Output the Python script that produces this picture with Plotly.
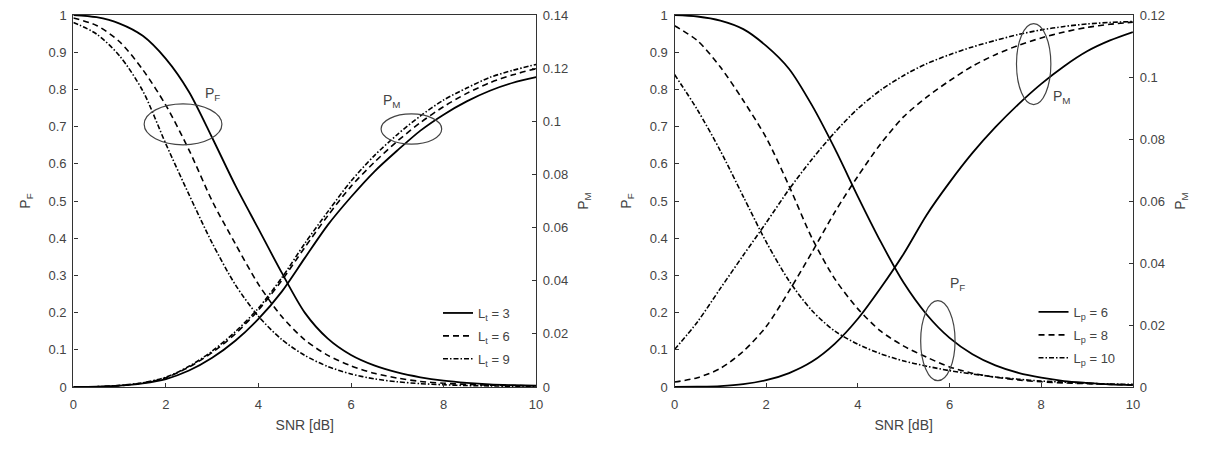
import plotly.graph_objects as go

snr = [0, 0.5, 1, 1.5, 2, 2.5, 3, 3.5, 4, 4.5, 5, 5.5, 6, 6.5, 7, 7.5, 8, 8.5, 9, 9.5, 10]

# Left panel: varying L_t
pf_lt3 = [1.0, 0.994, 0.977, 0.944, 0.882, 0.793, 0.67, 0.542, 0.425, 0.308, 0.2, 0.13, 0.086, 0.058, 0.039, 0.026, 0.017, 0.011, 0.007, 0.005, 0.0035]
pf_lt6 = [0.992, 0.972, 0.928, 0.853, 0.757, 0.637, 0.5, 0.385, 0.276, 0.19, 0.127, 0.085, 0.057, 0.037, 0.024, 0.015, 0.01, 0.007, 0.005, 0.004, 0.003]
pf_lt9 = [0.98, 0.949, 0.89, 0.796, 0.653, 0.517, 0.387, 0.275, 0.19, 0.128, 0.085, 0.055, 0.035, 0.022, 0.014, 0.009, 0.006, 0.004, 0.003, 0.002, 0.002]
pm_lt3 = [0.0, 0.0001, 0.0005, 0.0014, 0.003, 0.0062, 0.011, 0.0174, 0.0256, 0.0358, 0.0485, 0.061, 0.0715, 0.081, 0.089, 0.0965, 0.1025, 0.1075, 0.1115, 0.1145, 0.1166]
pm_lt6 = [0.0, 0.0001, 0.0005, 0.0015, 0.0035, 0.0075, 0.013, 0.02, 0.029, 0.04, 0.0525, 0.0645, 0.0755, 0.0845, 0.0925, 0.0995, 0.1055, 0.1105, 0.1145, 0.1175, 0.1198]
pm_lt9 = [0.0, 0.0001, 0.0006, 0.0016, 0.0037, 0.0078, 0.0135, 0.0208, 0.0297, 0.041, 0.054, 0.066, 0.0775, 0.087, 0.095, 0.102, 0.108, 0.1125, 0.1165, 0.1192, 0.1214]

# Right panel: varying L_p
pf_lp6 = [1.0, 0.996, 0.985, 0.962, 0.917, 0.855, 0.757, 0.64, 0.512, 0.39, 0.28, 0.195, 0.132, 0.088, 0.058, 0.038, 0.025, 0.016, 0.011, 0.007, 0.005]
pf_lp8 = [0.971, 0.931, 0.86, 0.77, 0.67, 0.54, 0.4, 0.29, 0.21, 0.15, 0.11, 0.08, 0.054, 0.037, 0.026, 0.019, 0.014, 0.011, 0.009, 0.007, 0.006]
pf_lp10 = [0.84, 0.745, 0.635, 0.512, 0.39, 0.285, 0.205, 0.15, 0.115, 0.089, 0.07, 0.056, 0.044, 0.035, 0.027, 0.021, 0.016, 0.013, 0.01, 0.008, 0.007]
pm_lp6 = [0.0, 0.0001, 0.0003, 0.0009, 0.0022, 0.0045, 0.0082, 0.014, 0.022, 0.032, 0.043, 0.0555, 0.066, 0.0755, 0.0838, 0.0912, 0.0978, 0.1035, 0.1083, 0.1118, 0.1145]
pm_lp8 = [0.0016, 0.003, 0.006, 0.0115, 0.0195, 0.031, 0.0435, 0.0565, 0.068, 0.0785, 0.0872, 0.0935, 0.0988, 0.1035, 0.1072, 0.1102, 0.1126, 0.1145, 0.116, 0.117, 0.1177]
pm_lp10 = [0.0121, 0.021, 0.0318, 0.0425, 0.053, 0.0638, 0.0735, 0.0822, 0.0898, 0.0958, 0.1005, 0.1043, 0.1072, 0.1097, 0.1118, 0.1137, 0.1152, 0.1163, 0.1171, 0.1176, 0.1179]

left_names = ["L<sub>t</sub> = 3", "L<sub>t</sub> = 6", "L<sub>t</sub> = 9"]
right_names = ["L<sub>p</sub> = 6", "L<sub>p</sub> = 8", "L<sub>p</sub> = 10"]

FONT = "Liberation Sans, Arial, sans-serif"
TXT = "#444444"
dashes = ["solid", "6px,4px", "5px,2px,1.5px,2px"]
widths = [1.8, 1.6, 1.6]

fig = go.Figure()

left_pf = [pf_lt3, pf_lt6, pf_lt9]
left_pm = [pm_lt3, pm_lt6, pm_lt9]
right_pf = [pf_lp6, pf_lp8, pf_lp10]
right_pm = [pm_lp6, pm_lp8, pm_lp10]

for i in range(3):
    fig.add_trace(go.Scatter(x=snr, y=left_pf[i], mode="lines", name=left_names[i], legendgroup="l%d" % i,
                             line=dict(color="black", width=widths[i], dash=dashes[i], shape="spline", smoothing=0.8),
                             xaxis="x", yaxis="y", legend="legend"))
for i in range(3):
    fig.add_trace(go.Scatter(x=snr, y=left_pm[i], mode="lines", name=left_names[i], showlegend=False,
                             line=dict(color="black", width=widths[i], dash=dashes[i], shape="spline", smoothing=0.8),
                             xaxis="x", yaxis="y2"))
for i in range(3):
    fig.add_trace(go.Scatter(x=snr, y=right_pf[i], mode="lines", name=right_names[i], legendgroup="r%d" % i,
                             line=dict(color="black", width=widths[i], dash=dashes[i], shape="spline", smoothing=0.8),
                             xaxis="x2", yaxis="y3", legend="legend2"))
for i in range(3):
    fig.add_trace(go.Scatter(x=snr, y=right_pm[i], mode="lines", name=right_names[i], showlegend=False,
                             line=dict(color="black", width=widths[i], dash=dashes[i], shape="spline", smoothing=0.8),
                             xaxis="x2", yaxis="y4"))

axis_common = dict(showgrid=False, zeroline=False, showline=True, linecolor="#333333", linewidth=1.3,
                   ticks="inside", ticklen=4, tickcolor="#333333",
                   tickfont=dict(family=FONT, size=13, color=TXT))
title_font = dict(family=FONT, size=14, color=TXT)

fig.update_layout(
    width=1206, height=465,
    margin=dict(l=0, r=0, t=15, b=78),
    paper_bgcolor="white", plot_bgcolor="white",
    font=dict(family=FONT, size=13, color=TXT),
    xaxis=dict(domain=[70/1206, 537/1206], range=[0, 10], dtick=2, mirror=True, ticklabelstandoff=5,
               title=dict(text="SNR [dB]", font=title_font, standoff=9),
               anchor="y", **axis_common),
    yaxis=dict(range=[0, 1], dtick=0.1, anchor="x", ticklabelstandoff=3,
               title=dict(text="P<sub>F</sub>", font=title_font, standoff=14),
               **axis_common),
    yaxis2=dict(range=[0, 0.14], dtick=0.02, overlaying="y", side="right", anchor="x", ticklabelstandoff=3,
                title=dict(text="P<sub>M</sub>", font=title_font, standoff=11),
                **axis_common),
    xaxis2=dict(domain=[676.7/1206, 1139.3/1206], range=[0, 10], dtick=2, mirror=True, ticklabelstandoff=5,
                title=dict(text="SNR [dB]", font=title_font, standoff=9),
                anchor="y3", **axis_common),
    yaxis3=dict(range=[0, 1], dtick=0.1, anchor="x2", ticklabelstandoff=3,
                title=dict(text="P<sub>F</sub>", font=title_font, standoff=14),
                **axis_common),
    yaxis4=dict(range=[0, 0.12], dtick=0.02, overlaying="y3", side="right", anchor="x2", ticklabelstandoff=3,
                title=dict(text="P<sub>M</sub>", font=title_font, standoff=11),
                **axis_common),
    legend=dict(x=438/1206, y=(387-298)/372, xanchor="left", yanchor="top",
                bgcolor="rgba(0,0,0,0)", font=dict(family=FONT, size=13, color=TXT),
                traceorder="grouped", tracegroupgap=3, itemwidth=30),
    legend2=dict(x=1039/1206, y=(387-297)/372, xanchor="left", yanchor="top",
                 bgcolor="rgba(0,0,0,0)", font=dict(family=FONT, size=13, color=TXT),
                 traceorder="grouped", tracegroupgap=3, itemwidth=30),
    showlegend=True,
)

# Ellipses grouping curves
ell = dict(type="circle", line=dict(color="#444444", width=1.2), fillcolor="rgba(0,0,0,0)")
fig.add_shape(xref="x", yref="y", x0=1.53, x1=3.21, y0=0.651, y1=0.761, **ell)
fig.add_shape(xref="x", yref="y", x0=6.65, x1=7.96, y0=0.653, y1=0.734, **ell)
fig.add_shape(xref="x2", yref="y3", x0=7.46, x1=8.21, y0=0.759, y1=0.977, **ell)
fig.add_shape(xref="x2", yref="y3", x0=5.37, x1=6.12, y0=0.017, y1=0.232, **ell)

lab = dict(showarrow=False, font=dict(family=FONT, size=14, color=TXT))
fig.add_annotation(x=3.0, y=0.788, xref="x", yref="y", text="P<sub>F</sub>", **lab)
fig.add_annotation(x=6.89, y=0.77, xref="x", yref="y", text="P<sub>M</sub>", **lab)
fig.add_annotation(x=8.45, y=0.78, xref="x2", yref="y3", text="P<sub>M</sub>", **lab)
fig.add_annotation(x=6.18, y=0.277, xref="x2", yref="y3", text="P<sub>F</sub>", **lab)

fig.write_html("out.html")
